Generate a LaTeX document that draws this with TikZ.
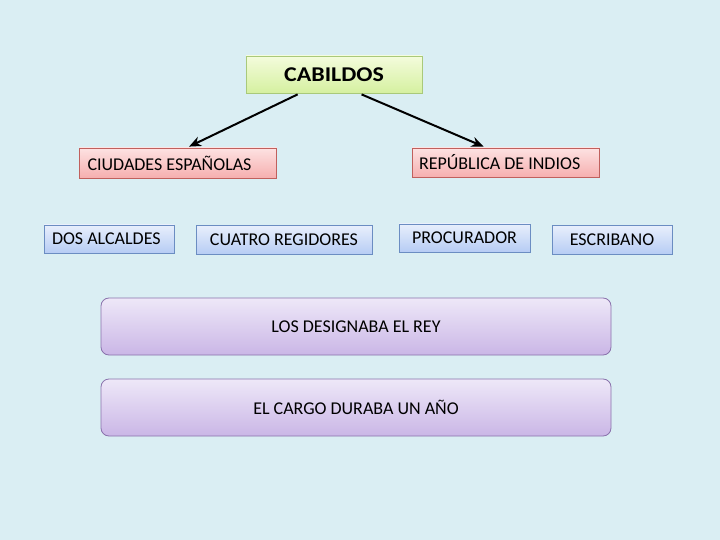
\documentclass[tikz,border=0pt]{standalone}
\usepackage{fontspec}
\usepackage{graphicx}
\setmainfont{Carlito}
\usetikzlibrary{arrows.meta,calc}
\definecolor{bg}{HTML}{DAEEF3}
\definecolor{gtop}{HTML}{F4FCDC}
\definecolor{gbot}{HTML}{D5F0A0}
\definecolor{gbrd}{HTML}{A9C97A}
\definecolor{ptop}{HTML}{FDE2E2}
\definecolor{pbot}{HTML}{F6AFAF}
\definecolor{pbrd}{HTML}{C0605D}
\definecolor{btop}{HTML}{E8EFFC}
\definecolor{bbot}{HTML}{B6CCF4}
\definecolor{bbrd}{HTML}{6B8DC2}
\definecolor{vtop}{HTML}{EEE8F8}
\definecolor{vbot}{HTML}{CAB6E6}
\definecolor{vbrd}{HTML}{8A72AC}
\tikzset{
  txt/.style={font=\fontsize{18}{21}\selectfont, text=black},
  greenbox/.style={draw=gbrd, line width=0.8pt, top color=gtop, bottom color=gbot, inner sep=0pt, txt},
  pinkbox/.style={draw=pbrd, line width=0.8pt, top color=ptop, bottom color=pbot, inner sep=0pt, txt},
  bluebox/.style={draw=bbrd, line width=0.8pt, top color=btop, bottom color=bbot, inner sep=0pt, txt},
  violetbox/.style={draw=vbrd, line width=0.8pt, top color=vtop, bottom color=vbot, rounded corners=8pt, inner sep=0pt, txt},
  arr/.style={line width=2pt, -{Stealth[length=12pt,width=10pt]}}
}
\begin{document}
\begin{tikzpicture}[x=1pt,y=-1pt]
\fill[bg] (0,0) rectangle (720,540);
\useasboundingbox (0,0) rectangle (720,540);
\node[greenbox, minimum width=176pt, minimum height=37pt, font=\fontsize{21}{24}\selectfont\bfseries] (cab) at (334,74.5) {\scalebox{1.14}[1]{CABILDOS}};
\node[pinkbox, minimum width=197pt, minimum height=30pt] (ciu) at (178,163) {\makebox[181pt][l]{CIUDADES ESPAÑOLAS}};
\node[pinkbox, minimum width=187pt, minimum height=29pt] (rep) at (505.5,162.5) {\makebox[173pt][l]{REPÚBLICA DE INDIOS}};
\node[bluebox, minimum width=130pt, minimum height=28pt] (dos) at (109,239) {\makebox[114pt][l]{DOS ALCALDES}};
\node[bluebox, minimum width=176pt, minimum height=29pt] (cua) at (284,240) {CUATRO REGIDORES};
\node[bluebox, minimum width=131pt, minimum height=28pt] (pro) at (464.5,238) {PROCURADOR};
\node[bluebox, minimum width=120pt, minimum height=29pt] (esc) at (612,240) {ESCRIBANO};
\node[violetbox, minimum width=510pt, minimum height=57pt] (rey) at (356,326.5) {LOS DESIGNABA EL REY};
\node[violetbox, minimum width=510pt, minimum height=57pt] (ano) at (356,407.5) {EL CARGO DURABA UN AÑO};
\coordinate (s1) at ($(cab.south west)+(52,1)$);
\coordinate (s2) at ($(cab.south west)+(116,1)$);
\coordinate (e1) at ($(ciu.north west)+(110,-1)$);
\coordinate (e2) at ($(rep.north west)+(72,-1)$);
\draw[arr] (s1) -- (e1);
\draw[arr] (s2) -- (e2);
\end{tikzpicture}
\end{document}
